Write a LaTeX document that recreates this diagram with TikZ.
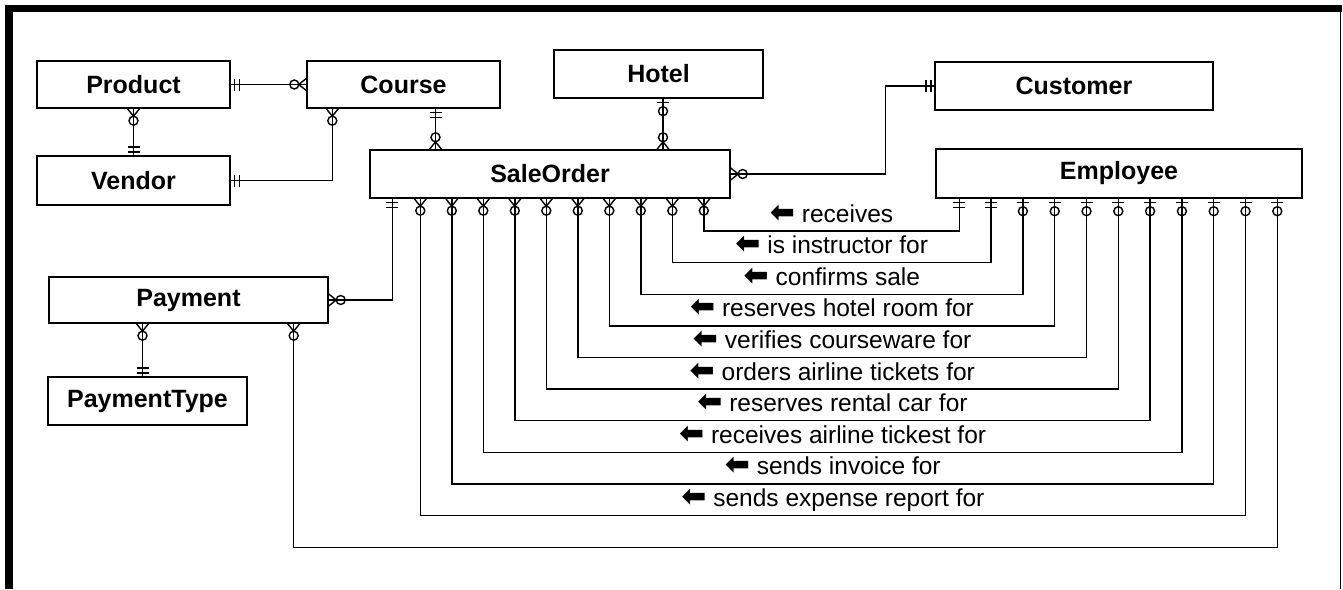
\documentclass[tikz,border=0pt]{standalone}
\usepackage{fontspec}
\setmainfont{Liberation Sans}
\newfontfamily\symfont{DejaVu Sans}
\usetikzlibrary{calc}

% cardinality marks, drawn pointing away from the box edge
\tikzset{
  pics/mandone/.style={code={\draw (3.5pt,-6pt) -- (3.5pt,6pt) (8.5pt,-6pt) -- (8.5pt,6pt);}},
  pics/optone/.style={code={\draw (4pt,-6pt) -- (4pt,6pt); \draw (12.5pt,0) circle (4.5pt);}},
  pics/optmany/.style={code={\draw (0,-6pt) -- (7.5pt,0) -- (0,6pt); \draw (12pt,0) circle (4.5pt);}},
}

\begin{document}
\begin{tikzpicture}[x=1pt, y=-1pt, line width=1.4pt,
    entity/.style={draw, inner sep=0pt, font=\bfseries\fontsize{25}{30}\selectfont},
    rel/.style={inner sep=0pt, font=\fontsize{24.5}{28}\selectfont}]
  \useasboundingbox (0,0) rectangle (1343,589);
  % window frame
  \fill (5,5) rectangle (1342,12);
  \fill (5,5) rectangle (13,589);
  \draw (1340.5,5) -- (1340.5,589);

  % entities
  \node[entity, minimum width=193pt, minimum height=47pt] (product) at (133.5,84.5) {Product};
  \node[entity, minimum width=193pt, minimum height=47pt] (course) at (403.5,84.5) {Course};
  \node[entity, minimum width=209pt, minimum height=48pt] (hotel) at (658.5,74) {Hotel};
  \node[entity, minimum width=278pt, minimum height=48pt] (customer) at (1074,86) {Customer};
  \node[entity, minimum width=193pt, minimum height=49pt] (vendor) at (133.5,180.5) {Vendor};
  \node[entity, minimum width=360pt, minimum height=48pt] (sale) at (550,174) {SaleOrder};
  \node[entity, minimum width=366pt, minimum height=49pt] (employee) at (1119,173.5) {Employee};
  \node[entity, minimum width=279pt, minimum height=46pt] (payment) at (188.5,300) {Payment};
  \node[entity, minimum width=199pt, minimum height=48pt] (ptype) at (147.5,401) {PaymentType};

  % fixed relationships
  \draw (product.east) -- (course.west);
  \pic[rotate=0] at (product.east) {mandone};
  \pic[rotate=180] at (course.west) {optmany};

  \draw (product.south) -- (vendor.north);
  \pic[rotate=-90] at (product.south) {optmany};
  \pic[rotate=90] at (vendor.north) {mandone};

  \coordinate (cv) at ([xshift=26pt]course.south west);
  \draw (vendor.east) -| (cv);
  \pic[rotate=0] at (vendor.east) {mandone};
  \pic[rotate=-90] at (cv) {optmany};

  \coordinate (cs) at ([xshift=32pt]course.south);
  \draw (cs) -- (cs |- sale.north);
  \pic[rotate=-90] at (cs) {mandone};
  \pic[rotate=90] at (cs |- sale.north) {optmany};

  \coordinate (hs) at ([xshift=4.5pt]hotel.south);
  \draw (hs) -- (hs |- sale.north);
  \pic[rotate=-90] at (hs) {optone};
  \pic[rotate=90] at (hs |- sale.north) {optmany};

  \draw (sale.east) -- ++(155,0) |- (customer.west);
  \pic[rotate=0] at (sale.east) {optmany};
  \pic[rotate=180] at (customer.west) {mandone};

  \coordinate (sp) at ([xshift=23pt]sale.south west);
  \draw (sp) |- (payment.east);
  \pic[rotate=-90] at (sp) {mandone};
  \pic[rotate=0] at (payment.east) {optmany};

  \coordinate (pt) at ([xshift=-5pt]ptype.north);
  \draw (pt |- payment.south) -- (pt);
  \pic[rotate=-90] at (pt |- payment.south) {optmany};
  \pic[rotate=90] at (pt) {mandone};

  % employee roles on a sale order
  \foreach \txt [count=\k from 0] in {receives, is instructor for, confirms sale,
      reserves hotel room for, verifies courseware for, orders airline tickets for,
      reserves rental car for, receives airline tickest for, sends invoice for,
      sends expense report for} {
    \pgfmathsetmacro\sx{334.5-31.5*\k}
    \pgfmathsetmacro\ex{24+31.8*\k}
    \pgfmathsetmacro\ly{231+31.6*\k}
    \coordinate (s\k) at ([xshift=\sx pt]sale.south west);
    \coordinate (e\k) at ([xshift=\ex pt]employee.south west);
    \draw (s\k) -- (s\k |- 0,\ly) -| (e\k);
    \pic[rotate=-90] at (s\k) {optmany};
    \ifnum\k<2
      \pic[rotate=-90] at (e\k) {mandone};
    \else
      \pic[rotate=-90] at (e\k) {optone};
    \fi
    \node[rel, anchor=base, yshift=9pt] (l\k) at ($(s\k |- 0,\ly)!0.5!(e\k |- 0,\ly)$)
      {{\symfont\bfseries\fontsize{30}{30}\selectfont ⬅}\ \txt};
  }

  % payment and employee
  \coordinate (pe) at ([xshift=-35pt]payment.south east);
  \coordinate (e10) at ([xshift=342pt]employee.south west);
  \draw (pe) -- ++(0,224) -| (e10);
  \pic[rotate=-90] at (pe) {optmany};
  \pic[rotate=-90] at (e10) {optone};
\end{tikzpicture}
\end{document}
